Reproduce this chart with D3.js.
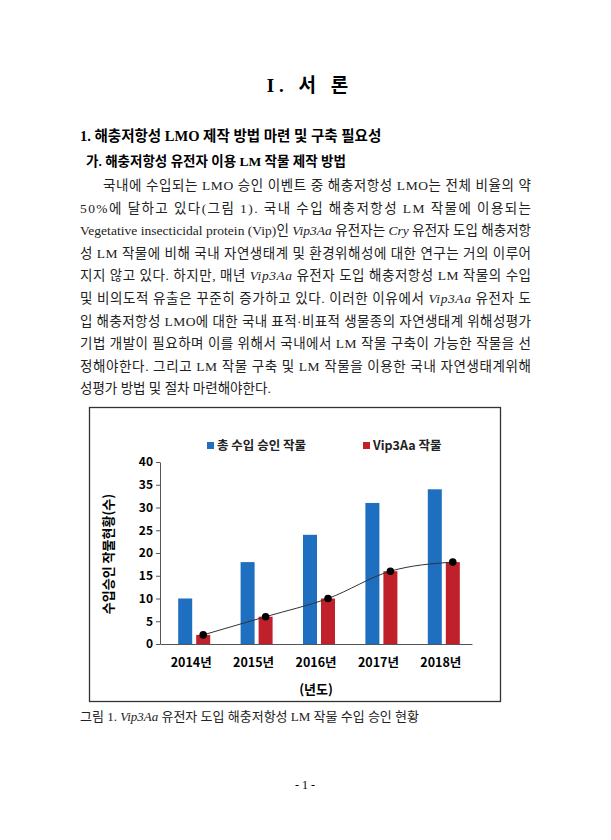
<!DOCTYPE html>
<html><head><meta charset="utf-8">
<script src="https://cdn.jsdelivr.net/npm/d3@7"></script>
<style>body{margin:0;background:#fff}</style>
</head><body>
<svg id="page" width="611" height="840"></svg>
<script>
// chart data
var years = ["2014년", "2015년", "2016년", "2017년", "2018년"];
var totalApproved = [10, 18, 24, 31, 34];
var vip3aa = [2, 6, 10, 16, 18];
var yTicks = [0, 5, 10, 15, 20, 25, 30, 35, 40];

// body text lines, [text, italic] pieces
var lines = [
  [["국내에 수입되는 LMO 승인 이벤트 중 해충저항성 LMO는 전체 비율의 약", 0]],
  [["50%에 달하고 있다(그림 1). 국내 수입 해충저항성 LM 작물에 이용되는", 0]],
  [["Vegetative insecticidal protein (Vip)인 ", 0], ["Vip3Aa", 1], [" 유전자는 ", 0], ["Cry", 1], [" 유전자 도입 해충저항", 0]],
  [["성 LM 작물에 비해 국내 자연생태계 및 환경위해성에 대한 연구는 거의 이루어", 0]],
  [["지지 않고 있다. 하지만, 매년 ", 0], ["Vip3Aa", 1], [" 유전자 도입 해충저항성 LM 작물의 수입", 0]],
  [["및 비의도적 유출은 꾸준히 증가하고 있다. 이러한 이유에서 ", 0], ["Vip3Aa", 1], [" 유전자 도", 0]],
  [["입 해충저항성 LMO에 대한 국내 표적·비표적 생물종의 자연생태계 위해성평가", 0]],
  [["기법 개발이 필요하며 이를 위해서 국내에서 LM 작물 구축이 가능한 작물을 선", 0]],
  [["정해야한다. 그리고 LM 작물 구축 및 LM 작물을 이용한 국내 자연생태계위해", 0]],
  [["성평가 방법 및 절차 마련해야한다.", 0]]
];

var svg = d3.select("#page");
var serif = "'Liberation Serif','Noto Sans CJK KR',serif";
var sans = "'Noto Sans CJK KR','Liberation Sans',sans-serif";

svg.append("text").attr("x", 310).attr("y", 92).attr("text-anchor", "middle")
  .attr("font-family", serif).attr("font-size", 19).attr("font-weight", "bold")
  .attr("letter-spacing", 5).text("I. 서 론");
svg.append("text").attr("x", 80).attr("y", 141).attr("font-family", serif)
  .attr("font-size", 14.5).attr("font-weight", "bold").text("1. 해충저항성 LMO 제작 방법 마련 및 구축 필요성");
svg.append("text").attr("x", 86).attr("y", 166).attr("font-family", serif)
  .attr("font-size", 13.5).attr("font-weight", "bold").text("가. 해충저항성 유전자 이용 LM 작물 제작 방법");

// paragraph, justified except last line
lines.forEach(function(parts, i) {
  var x0 = i === 0 ? 103 : 80;
  var t = svg.append("text").attr("x", x0).attr("y", 190 + i * 22.6)
    .attr("font-family", serif).attr("font-size", 13.5).attr("fill", "#222");
  if (i < lines.length - 1) t.attr("textLength", 531 - x0).attr("lengthAdjust", "spacing");
  parts.forEach(function(p) {
    t.append("tspan").attr("font-style", p[1] ? "italic" : "normal").text(p[0]);
  });
});

// chart frame
svg.append("rect").attr("x", 89.5).attr("y", 407.5).attr("width", 411).attr("height", 294)
  .attr("fill", "#fff").attr("stroke", "#333").attr("stroke-width", 1.3);

var x = d3.scaleBand().domain(years).range([160, 472]);
var y = d3.scaleLinear().domain([0, 40]).range([644, 462]);
var bw = 14;

var g = svg.append("g").attr("font-family", sans).attr("font-weight", "bold");

// axes
var yAxis = g.append("g").attr("transform", "translate(160,0)")
  .call(d3.axisLeft(y).tickValues(yTicks).tickSize(4).tickSizeOuter(0));
yAxis.selectAll("text").attr("font-size", 12).attr("fill", "#000")
  .attr("font-family", sans).attr("font-weight", "bold");
yAxis.selectAll("line,path").attr("stroke", "#555");
var xAxis = g.append("g").attr("transform", "translate(0,644)")
  .call(d3.axisBottom(x).tickSize(0).tickPadding(14));
xAxis.selectAll("text").attr("font-size", 12.5).attr("fill", "#000")
  .attr("font-family", sans).attr("font-weight", "bold");
xAxis.select("path").attr("stroke", "#555");

// bars
var mid = function(i) { return x(years[i]) + x.bandwidth() / 2; };
g.selectAll(".tot").data(totalApproved).enter().append("rect")
  .attr("x", function(d, i) { return mid(i) - 6 - bw / 2; })
  .attr("y", function(d) { return y(d); }).attr("width", bw)
  .attr("height", function(d) { return 644 - y(d); }).attr("fill", "#1f6fc1");
g.selectAll(".vip").data(vip3aa).enter().append("rect")
  .attr("x", function(d, i) { return mid(i) + 12 - bw / 2; })
  .attr("y", function(d) { return y(d); }).attr("width", bw)
  .attr("height", function(d) { return 644 - y(d); }).attr("fill", "#c0202a");

// trend line
var cx = function(d, i) { return mid(i) + 12; };
g.append("path").datum(vip3aa)
  .attr("d", d3.line().x(cx).y(function(d) { return y(d); }).curve(d3.curveMonotoneX))
  .attr("fill", "none").attr("stroke", "#333").attr("stroke-width", 1);
g.selectAll(".dot").data(vip3aa).enter().append("circle")
  .attr("cx", cx).attr("cy", function(d) { return y(d); }).attr("r", 3.8).attr("fill", "#000");

// legend
g.append("rect").attr("x", 207).attr("y", 442).attr("width", 7).attr("height", 7).attr("fill", "#1f6fc1");
g.append("text").attr("x", 217).attr("y", 450).attr("font-size", 12.5).attr("fill", "#222").text("총 수입 승인 작물");
g.append("rect").attr("x", 363).attr("y", 442).attr("width", 7).attr("height", 7).attr("fill", "#c0202a");
g.append("text").attr("x", 373).attr("y", 450).attr("font-size", 12.5).attr("fill", "#222").text("Vip3Aa 작물");

// axis titles
g.append("text").attr("transform", "translate(113,554) rotate(-90)").attr("text-anchor", "middle")
  .attr("font-size", 13).text("수입승인 작물현황(수)");
g.append("text").attr("x", 316).attr("y", 694).attr("text-anchor", "middle")
  .attr("font-size", 13).text("(년도)");

// caption and page number
var cap = svg.append("text").attr("x", 80).attr("y", 721).attr("font-family", serif)
  .attr("font-size", 13).attr("fill", "#222");
cap.append("tspan").text("그림 1. ");
cap.append("tspan").attr("font-style", "italic").text("Vip3Aa");
cap.append("tspan").text(" 유전자 도입 해충저항성 LM 작물 수입 승인 현황");
svg.append("text").attr("x", 305).attr("y", 789).attr("text-anchor", "middle")
  .attr("font-family", serif).attr("font-size", 12).text("- 1 -");
</script>
</body></html>
